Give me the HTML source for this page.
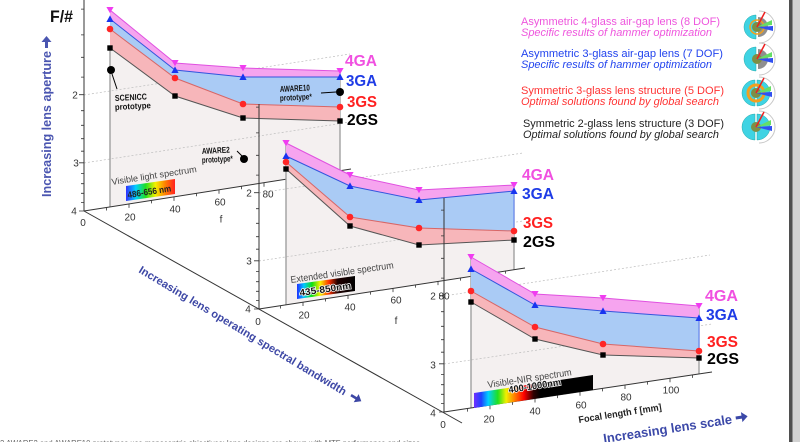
<!DOCTYPE html>
<html><head><meta charset="utf-8"><style>
html,body{margin:0;padding:0;background:#fff;}
svg{display:block;}
</style></head><body>
<svg width="800" height="442" viewBox="0 0 800 442" xmlns="http://www.w3.org/2000/svg" font-family="'Liberation Sans', Arial, sans-serif">
<defs>
<polygon id="dn" points="-3.6,-3 3.6,-3 0,3.3" fill="#f03cf0"/>
<polygon id="up" points="-3.6,3 3.6,3 0,-3.6" fill="#1834f0"/>
<circle id="ci" r="3.3" fill="#ff2626"/>
<rect id="sq" x="-2.7" y="-2.7" width="5.4" height="5.4" fill="#000"/>
<linearGradient id="g1" x1="0" x2="1" y1="0" y2="0">
<stop offset="0" stop-color="#3030ff"/><stop offset=".2" stop-color="#00d0ff"/><stop offset=".4" stop-color="#20e020"/><stop offset=".6" stop-color="#f4f000"/><stop offset=".8" stop-color="#ff8000"/><stop offset="1" stop-color="#ff2020"/>
</linearGradient>
<linearGradient id="g2" x1="0" x2="1" y1="0" y2="0">
<stop offset="0" stop-color="#2030ff"/><stop offset=".12" stop-color="#00c8ff"/><stop offset=".26" stop-color="#10e010"/><stop offset=".4" stop-color="#f8f000"/><stop offset=".55" stop-color="#ff3000"/><stop offset=".7" stop-color="#200000"/><stop offset="1" stop-color="#000"/>
</linearGradient>
<linearGradient id="g3" x1="0" x2="1" y1="0" y2="0">
<stop offset="0" stop-color="#7030ff"/><stop offset=".06" stop-color="#2040ff"/><stop offset=".12" stop-color="#00d0ff"/><stop offset=".2" stop-color="#20e020"/><stop offset=".27" stop-color="#f0f000"/><stop offset=".34" stop-color="#ff8000"/><stop offset=".42" stop-color="#ff0000"/><stop offset=".5" stop-color="#300000"/><stop offset=".56" stop-color="#000"/><stop offset="1" stop-color="#000"/>
</linearGradient>
</defs>
<rect x="0" y="0" width="800" height="442" fill="#fff"/>

<!-- depth axis -->
<line x1="84" y1="211" x2="462" y2="423" stroke="#333" stroke-width="1"/>

<!-- ================= PANEL 1 ================= -->
<polygon points="110,48 175,96 243,118 340,121 340,171 110,207" fill="#f4f0f0"/>
<g stroke="#bdbdbd" stroke-width="0.7" stroke-dasharray="2,2" fill="none">
<line x1="84" y1="95" x2="350" y2="54"/>
<line x1="84" y1="163" x2="350" y2="122"/>
</g>
<line x1="110" y1="48" x2="110" y2="207" stroke="#999" stroke-width="1.3"/>
<line x1="340" y1="71" x2="340" y2="183" stroke="#999" stroke-width="1.3"/>
<polygon points="110,10 175,63 243,68 340,71 340,77 243,77 175,70 110,19" fill="#f6a4ef"/>
<polygon points="110,19 175,70 243,77 340,77 340,107 243,104 175,78 110,29" fill="#aacbf5"/>
<polygon points="110,29 175,78 243,104 340,107 340,121 243,118 175,96 110,48" fill="#f7b6ba"/>
<g fill="none" stroke-width="1">
<polyline points="110,10 175,63 243,68 340,71" stroke="#e050e0"/>
<polyline points="110,19 175,70 243,77 340,77" stroke="#3355dd"/>
<polyline points="110,29 175,78 243,104 340,107" stroke="#d86666"/>
<polyline points="110,48 175,96 243,118 340,121" stroke="#555"/>
</g>
<use href="#dn" x="110" y="10"/><use href="#dn" x="175" y="63"/><use href="#dn" x="243" y="68"/><use href="#dn" x="340" y="71"/>
<use href="#up" x="110" y="19"/><use href="#up" x="175" y="70"/><use href="#up" x="243" y="77"/><use href="#up" x="340" y="77"/>
<use href="#ci" x="110" y="29"/><use href="#ci" x="175" y="78"/><use href="#ci" x="243" y="104"/><use href="#ci" x="340" y="107"/>
<use href="#sq" x="110" y="48"/><use href="#sq" x="175" y="96"/><use href="#sq" x="243" y="118"/><use href="#sq" x="340" y="121"/>
<!-- axes -->
<line x1="84" y1="0" x2="84" y2="211" stroke="#333" stroke-width="1"/>
<line x1="84" y1="211" x2="351" y2="169" stroke="#333" stroke-width="1"/>
<path d="M81,9.1h3M81,34.9h3M81,57.3h3M81,77.1h3M79,94.7h5M81,110.7h3M81,125.3h3M81,138.7h3M81,151.2h3M79,162.8h5M81,173.6h3M81,183.7h3M81,193.3h3M81,202.4h3M79,211h5" stroke="#333" stroke-width="0.8"/>
<path d="M106.5,207.5v3M129,203.9v4M151.5,200.4v3M174,196.9v4M196.5,193.3v3M219,189.8v4M241.5,186.3v3M264,182.7v4" stroke="#333" stroke-width="0.8"/>
<g font-size="10" fill="#333" text-anchor="middle">
<text x="75" y="98.5">2</text><text x="76" y="166.5">3</text><text x="74" y="214.5">4</text><text x="83" y="226">0</text>
<text x="130" y="220.5">20</text><text x="175" y="212.5">40</text><text x="220" y="205.5">60</text><text x="268" y="197.5">80</text>
<text x="221" y="222.5">f</text>
</g>
<!-- SCENICC / AWARE -->
<circle cx="111" cy="70" r="4" fill="#000"/>
<line x1="112" y1="74" x2="117" y2="89" stroke="#000" stroke-width="1"/>
<g font-size="8.5" font-weight="bold" fill="#111">
<text x="115" y="101" textLength="32" lengthAdjust="spacingAndGlyphs" transform="rotate(-3 115 101)">SCENICC</text>
<text x="115" y="110" textLength="36" lengthAdjust="spacingAndGlyphs" transform="rotate(-3 115 110)">prototype</text>
<text x="202" y="154" textLength="28" lengthAdjust="spacingAndGlyphs" transform="rotate(-3 202 154)">AWARE2</text>
<text x="202" y="163" textLength="31" lengthAdjust="spacingAndGlyphs" transform="rotate(-3 202 163)">prototype*</text>
<text x="280" y="92" textLength="30" lengthAdjust="spacingAndGlyphs" transform="rotate(-3 280 92)">AWARE10</text>
<text x="280" y="101" textLength="32" lengthAdjust="spacingAndGlyphs" transform="rotate(-3 280 101)">prototype*</text>
</g>
<circle cx="244" cy="159" r="4" fill="#000"/>
<line x1="237" y1="151" x2="242" y2="156" stroke="#000" stroke-width="1"/>
<circle cx="340" cy="92" r="4" fill="#000"/>
<line x1="321" y1="93" x2="336" y2="92" stroke="#000" stroke-width="1"/>
<!-- spectrum box 1 -->
<text x="112" y="185" font-size="9" fill="#444" textLength="86" lengthAdjust="spacingAndGlyphs" transform="rotate(-8.7 112 185)">Visible light spectrum</text>
<polygon points="126,186 175,179 175,194 126,201" fill="url(#g1)"/>
<text x="128" y="198" font-size="9" font-weight="bold" fill="#222" textLength="44" lengthAdjust="spacingAndGlyphs" transform="rotate(-8.7 128 198)">486-656 nm</text>
<!-- labels panel 1 -->
<g font-size="16" font-weight="bold">
<text x="345" y="66" fill="#f050e0" textLength="32" lengthAdjust="spacingAndGlyphs">4GA</text>
<text x="346" y="86" fill="#1f3ce6" textLength="31" lengthAdjust="spacingAndGlyphs">3GA</text>
<text x="347" y="107" fill="#ff2020" textLength="30" lengthAdjust="spacingAndGlyphs">3GS</text>
<text x="347" y="125" fill="#000" textLength="31" lengthAdjust="spacingAndGlyphs">2GS</text>
</g>

<!-- ================= PANEL 2 ================= -->
<polygon points="286,169 350,226 419,245 514,240 514,269 286,305" fill="#f4f0f0"/>
<g stroke="#bdbdbd" stroke-width="0.7" stroke-dasharray="2,2" fill="none">
<line x1="259" y1="193" x2="523" y2="153"/>
<line x1="259" y1="261" x2="523" y2="221"/>
</g>
<line x1="286" y1="143" x2="286" y2="305" stroke="#999" stroke-width="1.3"/>
<line x1="514" y1="185" x2="514" y2="270" stroke="#999" stroke-width="1.3"/>
<polygon points="286,143 350,175 419,190 514,185 514,191 419,200 350,186 286,156" fill="#f6a4ef"/>
<polygon points="286,156 350,186 419,200 514,191 514,231 419,228 350,217 286,162" fill="#aacbf5"/>
<polygon points="286,162 350,217 419,228 514,231 514,240 419,245 350,226 286,169" fill="#f7b6ba"/>
<g fill="none" stroke-width="1">
<polyline points="286,143 350,175 419,190 514,185" stroke="#e050e0"/>
<polyline points="286,156 350,186 419,200 514,191" stroke="#3355dd"/>
<polyline points="286,162 350,217 419,228 514,231" stroke="#d86666"/>
<polyline points="286,169 350,226 419,245 514,240" stroke="#555"/>
<line x1="514" y1="191" x2="514" y2="231" stroke="#5577ee"/>
</g>
<use href="#dn" x="286" y="143"/><use href="#dn" x="350" y="175"/><use href="#dn" x="419" y="190"/><use href="#dn" x="514" y="185"/>
<use href="#up" x="286" y="156"/><use href="#up" x="350" y="186"/><use href="#up" x="419" y="200"/><use href="#up" x="514" y="191"/>
<use href="#ci" x="286" y="162"/><use href="#ci" x="350" y="217"/><use href="#ci" x="419" y="228"/><use href="#ci" x="514" y="231"/>
<use href="#sq" x="286" y="169"/><use href="#sq" x="350" y="226"/><use href="#sq" x="419" y="245"/><use href="#sq" x="514" y="240"/>
<line x1="259" y1="104" x2="259" y2="309" stroke="#333" stroke-width="1"/>
<line x1="259" y1="309" x2="525" y2="268" stroke="#333" stroke-width="1"/>
<path d="M256,107.1h3M256,132.9h3M256,155.3h3M256,175.1h3M254,192.7h5M256,208.7h3M256,223.3h3M256,236.7h3M256,249.2h3M254,260.8h5M256,271.6h3M256,281.7h3M256,291.3h3M256,300.4h3M254,309h5" stroke="#333" stroke-width="0.8"/>
<path d="M280.5,305.5v3M303,302v4M325.5,298.5v3M348,295v4M370.5,291.6v3M393,288.1v4M415.5,284.6v3M438,281.1v4M460.5,277.6v3M483,274.1v4M505.5,270.6v3" stroke="#333" stroke-width="0.8"/>
<g font-size="10" fill="#333" text-anchor="middle">
<text x="249" y="196.5">2</text><text x="249" y="264.5">3</text><text x="248" y="312.5">4</text><text x="258" y="325">0</text>
<text x="304" y="318.5">20</text><text x="350" y="310.5">40</text><text x="396" y="303.5">60</text><text x="444" y="299.5">80</text>
<text x="396" y="324">f</text>
</g>
<text x="291" y="283" font-size="9.5" fill="#444" textLength="104" lengthAdjust="spacingAndGlyphs" transform="rotate(-8.2 291 283)">Extended visible spectrum</text>
<polygon points="297,284 355,276 355,291 297,299" fill="url(#g2)"/>
<text x="300" y="296" font-size="9.5" font-weight="bold" fill="#111" stroke="#fff" stroke-width="1.4" paint-order="stroke" textLength="52" lengthAdjust="spacingAndGlyphs" transform="rotate(-8.2 300 296)">435-850nm</text>
<g font-size="16" font-weight="bold">
<text x="522" y="180" fill="#f050e0" textLength="32" lengthAdjust="spacingAndGlyphs">4GA</text>
<text x="522" y="199" fill="#1f3ce6" textLength="32" lengthAdjust="spacingAndGlyphs">3GA</text>
<text x="523" y="228" fill="#ff2020" textLength="30" lengthAdjust="spacingAndGlyphs">3GS</text>
<text x="523" y="247" fill="#000" textLength="32" lengthAdjust="spacingAndGlyphs">2GS</text>
</g>

<!-- ================= PANEL 3 ================= -->
<polygon points="471,302 535,339 603,355 699,358 699,374 471,408" fill="#f4f0f0"/>
<g stroke="#bdbdbd" stroke-width="0.7" stroke-dasharray="2,2" fill="none">
<line x1="444" y1="296" x2="710" y2="255"/>
<line x1="444" y1="364" x2="712" y2="324"/>
</g>
<line x1="471" y1="257" x2="471" y2="408" stroke="#999" stroke-width="1.3"/>
<line x1="699" y1="306" x2="699" y2="374" stroke="#999" stroke-width="1.3"/>
<polygon points="471,257 535,294 603,298 699,306 699,318 603,311 535,305 471,269" fill="#f6a4ef"/>
<polygon points="471,269 535,305 603,311 699,318 699,351 603,344 535,327 471,291" fill="#aacbf5"/>
<polygon points="471,291 535,327 603,344 699,351 699,358 603,355 535,339 471,302" fill="#f7b6ba"/>
<g fill="none" stroke-width="1">
<polyline points="471,257 535,294 603,298 699,306" stroke="#e050e0"/>
<polyline points="471,269 535,305 603,311 699,318" stroke="#3355dd"/>
<polyline points="471,291 535,327 603,344 699,351" stroke="#d86666"/>
<polyline points="471,302 535,339 603,355 699,358" stroke="#555"/>
<line x1="699" y1="318" x2="699" y2="351" stroke="#5577ee"/>
</g>
<use href="#dn" x="471" y="257"/><use href="#dn" x="535" y="294"/><use href="#dn" x="603" y="298"/><use href="#dn" x="699" y="306"/>
<use href="#up" x="471" y="269"/><use href="#up" x="535" y="305"/><use href="#up" x="603" y="311"/><use href="#up" x="699" y="318"/>
<use href="#ci" x="471" y="291"/><use href="#ci" x="535" y="327"/><use href="#ci" x="603" y="344"/><use href="#ci" x="699" y="351"/>
<use href="#sq" x="471" y="302"/><use href="#sq" x="535" y="339"/><use href="#sq" x="603" y="355"/><use href="#sq" x="699" y="358"/>
<line x1="444" y1="198" x2="444" y2="412" stroke="#333" stroke-width="1"/>
<line x1="444" y1="412" x2="712" y2="372" stroke="#333" stroke-width="1"/>
<path d="M441,210.1h3M441,235.9h3M441,258.3h3M441,278.1h3M439,295.7h5M441,311.7h3M441,326.3h3M441,339.7h3M441,352.2h3M439,363.8h5M441,374.6h3M441,384.7h3M441,394.3h3M441,403.4h3M439,412h5" stroke="#333" stroke-width="0.8"/>
<path d="M467.5,408.6v3M490,405.3v4M512.5,401.9v3M535,398.5v4M557.5,395.1v3M580,391.8v4M602.5,388.4v3M625,385v4M647.5,381.6v3M670,378.3v4M692.5,374.9v3" stroke="#333" stroke-width="0.8"/>
<g font-size="10" fill="#333" text-anchor="middle">
<text x="433" y="299.5">2</text><text x="433" y="368.5">3</text><text x="433" y="416.5">4</text><text x="443" y="428">0</text>
<text x="489" y="422.5">20</text><text x="535" y="414.5">40</text><text x="581" y="408.5">60</text><text x="626" y="400.5">80</text><text x="671" y="393.5">100</text>
</g>
<text x="488" y="388" font-size="9.5" fill="#444" textLength="85" lengthAdjust="spacingAndGlyphs" transform="rotate(-8.7 488 388)">Visible-NIR spectrum</text>
<polygon points="474,393 593,375 593,390 474,408" fill="url(#g3)"/>
<text x="509" y="393" font-size="9.5" font-weight="bold" fill="#111" stroke="#fff" stroke-width="1.4" paint-order="stroke" textLength="53" lengthAdjust="spacingAndGlyphs" transform="rotate(-8.7 509 393)">400-1000nm</text>
<g font-size="16" font-weight="bold">
<text x="705" y="301" fill="#f050e0" textLength="33" lengthAdjust="spacingAndGlyphs">4GA</text>
<text x="706" y="320" fill="#1f3ce6" textLength="32" lengthAdjust="spacingAndGlyphs">3GA</text>
<text x="707" y="347" fill="#ff2020" textLength="31" lengthAdjust="spacingAndGlyphs">3GS</text>
<text x="707" y="364" fill="#000" textLength="32" lengthAdjust="spacingAndGlyphs">2GS</text>
</g>
<text x="579" y="423" font-size="9.5" font-weight="bold" fill="#222" textLength="84" lengthAdjust="spacingAndGlyphs" transform="rotate(-8.9 579 423)">Focal length f [mm]</text>

<!-- ================= AXIS TITLES ================= -->
<text x="50" y="22" font-size="17" font-weight="bold" fill="#111" textLength="23" lengthAdjust="spacingAndGlyphs">F/#</text>
<text x="0" y="0" font-size="12.5" font-weight="bold" fill="#4a55b0" textLength="146" lengthAdjust="spacingAndGlyphs" transform="translate(51,197) rotate(-90)">Increasing lens aperture</text>
<polygon points="45,48 48,48 48,42 51.5,42 46.5,36 41.5,42 45,42" fill="#4a55b0"/>
<g transform="translate(138,272) rotate(31)" fill="#3d47a5">
<text x="0" y="0" font-size="11" font-weight="bold" textLength="240" lengthAdjust="spacingAndGlyphs">Increasing lens operating spectral bandwidth</text>
<polygon points="246,-5.5 252,-5.5 252,-9 258,-4.2 252,0.6 252,-2.8 246,-2.8"/>
</g>
<g transform="translate(604,443) rotate(-8.6)" fill="#3b48a8">
<text x="0" y="0" font-size="13" font-weight="bold" textLength="130" lengthAdjust="spacingAndGlyphs">Increasing lens scale</text>
<polygon points="134,-6.5 140,-6.5 140,-10 146,-5 140,0 140,-3.5 134,-3.5"/>
</g>

<!-- ================= LEGEND ================= -->
<g font-size="11">
<text x="521" y="25" fill="#ee55dd" textLength="199" lengthAdjust="spacingAndGlyphs">Asymmetric 4-glass air-gap lens (8 DOF)</text>
<text x="521" y="36" fill="#ee55dd" font-style="italic" textLength="191" lengthAdjust="spacingAndGlyphs">Specific results of hammer optimization</text>
<text x="521" y="57" fill="#2244ee" textLength="202" lengthAdjust="spacingAndGlyphs">Asymmetric 3-glass air-gap lens  (7 DOF)</text>
<text x="521" y="68" fill="#2244ee" font-style="italic" textLength="191" lengthAdjust="spacingAndGlyphs">Specific results of hammer optimization</text>
<text x="521" y="94" fill="#ff3333" textLength="203" lengthAdjust="spacingAndGlyphs">Symmetric 3-glass lens structure (5 DOF)</text>
<text x="521" y="105" fill="#ff3333" font-style="italic" textLength="198" lengthAdjust="spacingAndGlyphs">Optimal solutions found by global search</text>
<text x="523" y="127" fill="#222" textLength="201" lengthAdjust="spacingAndGlyphs">Symmetric 2-glass lens structure (3 DOF)</text>
<text x="523" y="138" fill="#222" font-style="italic" textLength="196" lengthAdjust="spacingAndGlyphs">Optimal solutions found by global search</text>
</g>
<!-- icons -->
<g transform="translate(757,27)">
<path d="M2,-16 A16,16 0 0 1 2,16" fill="none" stroke="#c8c8c8" stroke-width="1"/>
<path d="M-1,-12 A12,12 0 0 0 -1,12 Z" fill="#3fd3e3" stroke="#2aa" stroke-width=".5"/>
<path d="M1,-10 A10,10 0 0 1 1,10 Z" fill="#8f8f8f"/>
<circle r="7" fill="none" stroke="#f0a020" stroke-width="1.5"/>
<circle r="5" fill="#7d8f45"/>
<path d="M0,0 L15,-7 L15,-2 Z" fill="#66dd66"/>
<path d="M0,0 L16,-1 L16,4 Z" fill="#3050f0"/>
<line x1="0" y1="0" x2="8" y2="-15" stroke="#ee2020" stroke-width="1.5"/>
</g>
<g transform="translate(757,59)">
<path d="M2,-16 A16,16 0 0 1 2,16" fill="none" stroke="#c8c8c8" stroke-width="1"/>
<path d="M-1,-12 A12,12 0 0 0 -1,12 Z" fill="#3fd3e3" stroke="#2aa" stroke-width=".5"/>
<path d="M1,-10 A10,10 0 0 1 1,10 Z" fill="#8f8f8f"/>
<circle r="5" fill="#7d8f45"/>
<path d="M0,0 L15,-7 L15,-2 Z" fill="#66dd66"/>
<path d="M0,0 L16,-1 L16,4 Z" fill="#3050f0"/>
<line x1="0" y1="0" x2="8" y2="-15" stroke="#ee2020" stroke-width="1.5"/>
</g>
<g transform="translate(756,93)">
<path d="M3,-16 A16,16 0 0 1 3,16" fill="none" stroke="#c8c8c8" stroke-width="1"/>
<path d="M-1,-13 A13,13 0 0 0 -1,13 Z" fill="#3fd3e3" stroke="#2aa" stroke-width=".5"/>
<path d="M1,-13 A13,13 0 0 1 1,13 Z" fill="#3fd3e3" stroke="#2aa" stroke-width=".5"/>
<circle r="8" fill="none" stroke="#f0a020" stroke-width="3"/>
<circle r="5" fill="#7d8f45"/>
<path d="M0,0 L15,-7 L15,-2 Z" fill="#66dd66"/>
<path d="M0,0 L16,-1 L16,4 Z" fill="#3050f0"/>
<line x1="0" y1="0" x2="8" y2="-15" stroke="#ee2020" stroke-width="1.5"/>
</g>
<g transform="translate(756,127)">
<path d="M3,-16 A16,16 0 0 1 3,16" fill="none" stroke="#c8c8c8" stroke-width="1"/>
<path d="M-1,-13 A13,13 0 0 0 -1,13 Z" fill="#3fd3e3" stroke="#2aa" stroke-width=".5"/>
<path d="M1,-13 A13,13 0 0 1 1,13 Z" fill="#3fd3e3" stroke="#2aa" stroke-width=".5"/>
<circle r="5" fill="#7d8f45"/>
<path d="M0,0 L15,-7 L15,-2 Z" fill="#66dd66"/>
<path d="M0,0 L16,-1 L16,4 Z" fill="#3050f0"/>
<line x1="0" y1="0" x2="8" y2="-15" stroke="#ee2020" stroke-width="1.5"/>
</g>

<!-- bottom caption (cut off) -->
<text x="0" y="446" font-size="8" fill="#666" textLength="420" lengthAdjust="spacingAndGlyphs">2 AWARE2 and AWARE10 prototypes use monocentric objectives; lens designs are shown with MTF performance and sizes</text>

<!-- right border -->
<rect x="789" y="0" width="3.5" height="442" fill="#4f4f4f"/>
<rect x="792.5" y="0" width="7.5" height="442" fill="#d2d2d2"/>
</svg>
</body></html>
